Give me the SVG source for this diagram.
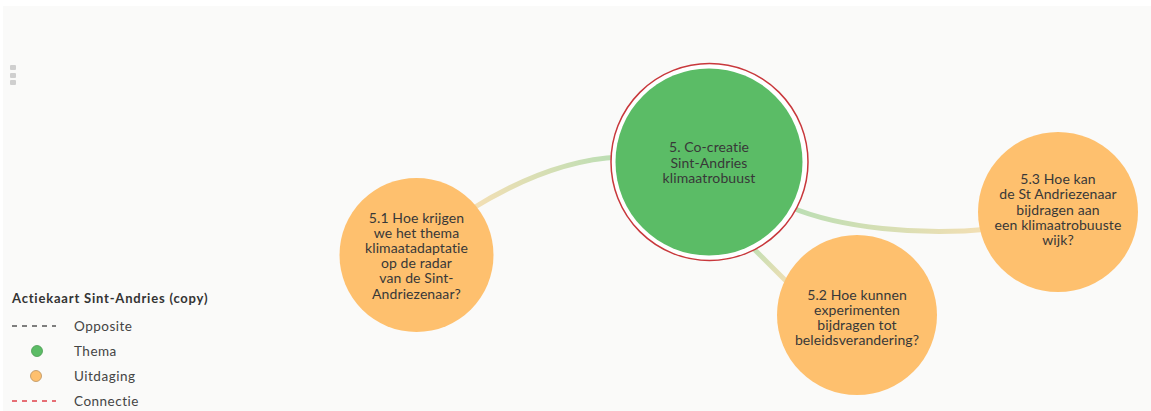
<svg xmlns="http://www.w3.org/2000/svg" width="1151" height="411" viewBox="0 0 1151 411">
  <style>
    .lbl { font-family: Lato, "Open Sans", "Liberation Sans", sans-serif; font-size: 14px; letter-spacing: 0.1px; fill: #383838; text-anchor: middle; }
    .leg { font-family: Lato, "Open Sans", "Liberation Sans", sans-serif; font-size: 13.5px; letter-spacing: 0.5px; fill: #444; }
    .legt { font-family: Lato, "Open Sans", "Liberation Sans", sans-serif; font-size: 13px; letter-spacing: 0.8px; font-weight: bold; fill: #333; }
    .uit { fill: #fec06e; }
    .edge { fill: none; stroke-width: 5; stroke-linecap: round; }
  </style>
  <defs>
    <linearGradient id="g1" gradientUnits="userSpaceOnUse" x1="475" y1="207" x2="615" y2="158">
      <stop offset="0" stop-color="#f3dfb4"/>
      <stop offset="1" stop-color="#bbdeb4"/>
    </linearGradient>
    <linearGradient id="g2" gradientUnits="userSpaceOnUse" x1="748" y1="243" x2="790" y2="285">
      <stop offset="0" stop-color="#bbdeb4"/>
      <stop offset="1" stop-color="#f3dfb4"/>
    </linearGradient>
    <linearGradient id="g3" gradientUnits="userSpaceOnUse" x1="793" y1="208" x2="985" y2="229">
      <stop offset="0" stop-color="#bbdeb4"/>
      <stop offset="1" stop-color="#f3dfb4"/>
    </linearGradient>
  </defs>
  <rect x="0" y="0" width="1151" height="411" fill="#ffffff"/>
  <rect x="3" y="6" width="1148" height="405" fill="#fafaf9"/>
  <g id="handle" fill="#cfcfcf">
    <rect x="10" y="65" width="6" height="5" rx="1"/>
    <rect x="10" y="73" width="6" height="5" rx="1"/>
    <rect x="10" y="80" width="6" height="5" rx="1"/>
  </g>
  <g id="connectors">
    <path class="edge" stroke="url(#g1)" d="M470,210 Q550,160 620,157"/>
    <path class="edge" stroke="url(#g2)" d="M745,240 Q766,261 792,287"/>
    <path class="edge" stroke="url(#g3)" d="M790,207 C840,228 920,236 990,229"/>
  </g>
  <g id="node-5">
    <circle cx="709.5" cy="162" r="98.5" fill="#ffffff" stroke="#c8383c" stroke-width="1.5"/>
    <circle cx="709" cy="162" r="93.5" fill="#5bbc66"/>
    <text class="lbl" x="709" y="152">5. Co-creatie</text>
    <text class="lbl" x="709" y="168">Sint-Andries</text>
    <text class="lbl" x="709" y="183">klimaatrobuust</text>
  </g>
  <g id="node-5-1">
    <circle class="uit" cx="416.5" cy="255" r="77"/>
    <text class="lbl" x="416.5" y="223">5.1 Hoe krijgen</text>
    <text class="lbl" x="416.5" y="238">we het thema</text>
    <text class="lbl" x="416.5" y="253">klimaatadaptatie</text>
    <text class="lbl" x="416.5" y="268">op de radar</text>
    <text class="lbl" x="416.5" y="283">van de Sint-</text>
    <text class="lbl" x="416.5" y="299">Andriezenaar?</text>
  </g>
  <g id="node-5-2">
    <circle class="uit" cx="857" cy="315" r="80"/>
    <text class="lbl" x="857" y="300">5.2 Hoe kunnen</text>
    <text class="lbl" x="857" y="315">experimenten</text>
    <text class="lbl" x="857" y="330">bijdragen tot</text>
    <text class="lbl" x="857" y="345">beleidsverandering?</text>
  </g>
  <g id="node-5-3">
    <circle class="uit" cx="1058" cy="212" r="80"/>
    <text class="lbl" x="1058" y="184">5.3 Hoe kan</text>
    <text class="lbl" x="1058" y="199">de St Andriezenaar</text>
    <text class="lbl" x="1058" y="215">bijdragen aan</text>
    <text class="lbl" x="1058" y="230">een klimaatrobuuste</text>
    <text class="lbl" x="1058" y="245">wijk?</text>
  </g>
  <g id="legend">
    <text class="legt" x="12" y="303">Actiekaart Sint-Andries (copy)</text>
    <line x1="12" y1="326" x2="56" y2="326" stroke="#555" stroke-width="1.5" stroke-dasharray="5,5"/>
    <text class="leg" x="74" y="331">Opposite</text>
    <circle cx="37" cy="351" r="5.5" fill="#5bbc66" stroke="#4a9a52" stroke-width="0.8"/>
    <text class="leg" x="74" y="356">Thema</text>
    <circle cx="36" cy="376" r="5.5" fill="#fec06e" stroke="#b89060" stroke-width="0.8"/>
    <text class="leg" x="74" y="381">Uitdaging</text>
    <line x1="12" y1="401" x2="56" y2="401" stroke="#e0404a" stroke-width="1.5" stroke-dasharray="5,5"/>
    <text class="leg" x="74" y="406">Connectie</text>
  </g>
</svg>
